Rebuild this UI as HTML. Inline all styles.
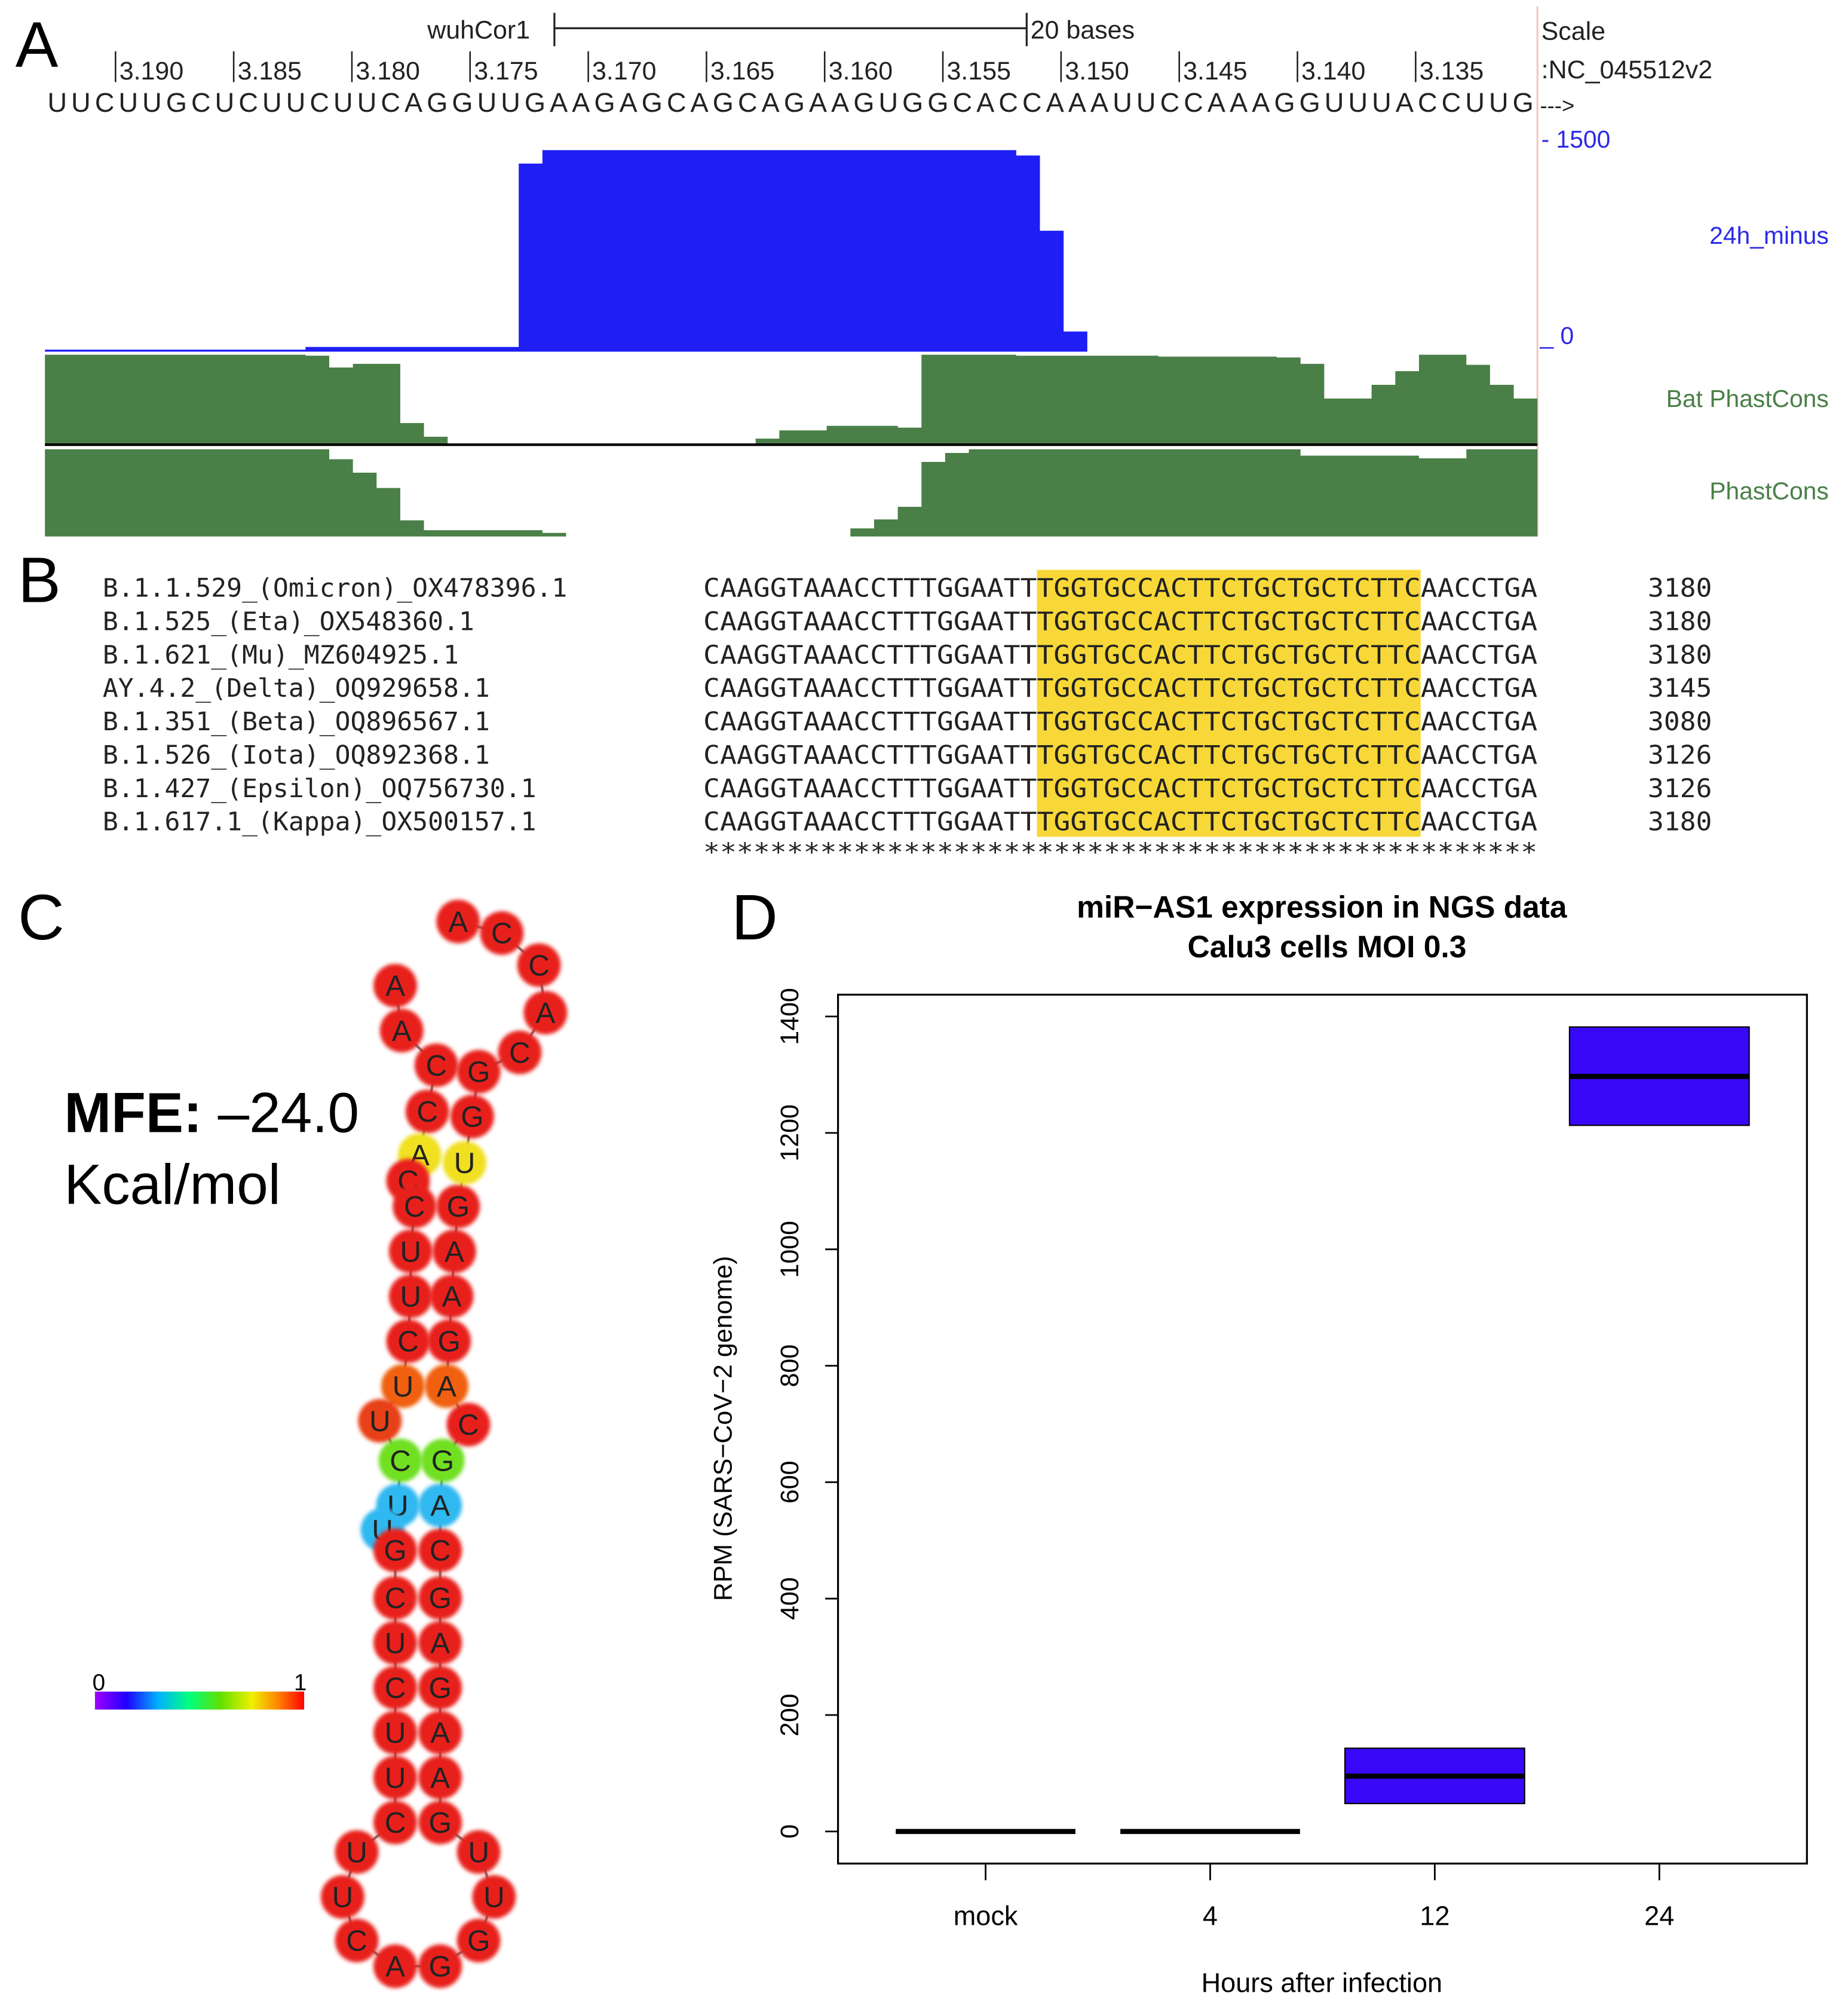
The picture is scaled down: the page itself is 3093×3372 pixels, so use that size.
<!DOCTYPE html>
<html><head><meta charset="utf-8">
<style>
html,body{margin:0;padding:0;background:#fff;}
svg{display:block;}
.sans{font-family:"Liberation Sans",sans-serif;}
.mono{font-family:"DejaVu Sans Mono","Liberation Mono",monospace;}
</style></head>
<body>
<svg id="fig" width="3093" height="3372" viewBox="0 0 1440 1570" preserveAspectRatio="none" xmlns="http://www.w3.org/2000/svg">
<defs>
<linearGradient id="rainbow" x1="0" x2="1" y1="0" y2="0">
<stop offset="0" stop-color="#a000ff"/><stop offset="0.15" stop-color="#2000ff"/><stop offset="0.3" stop-color="#00b0ff"/><stop offset="0.45" stop-color="#00ff80"/><stop offset="0.6" stop-color="#60e000"/><stop offset="0.75" stop-color="#f0f000"/><stop offset="0.88" stop-color="#ff8000"/><stop offset="1" stop-color="#ff0000"/>
</linearGradient>
<filter id="glow" x="-50%" y="-50%" width="200%" height="200%"><feGaussianBlur stdDeviation="1.5"/></filter>
</defs>
<rect width="1440" height="1570" fill="#fff"/>

<!-- PANEL A -->
<g id="panelA" class="sans">
<text x="12" y="52" font-size="50">A</text>
<text x="333" y="30" font-size="20" fill="#222">wuhCor1</text>
<g stroke="#222" stroke-width="1.5">
<line x1="432" y1="22" x2="800" y2="22"/><line x1="432" y1="10" x2="432" y2="36"/><line x1="800" y1="10" x2="800" y2="36"/>
</g>
<text x="803" y="30" font-size="20" fill="#222">20 bases</text>
<line x1="1198" y1="5" x2="1198" y2="418" stroke="#f0c8c8" stroke-width="1.5"/>
<text x="1201" y="31" font-size="20" fill="#222">Scale</text>
<text x="1201" y="61" font-size="20" fill="#222">:NC_045512v2</text>
<g id="coordTicks"></g>
<text x="37" y="87" font-size="21" fill="#222" textLength="1158" lengthAdjust="spacing">UUCUUGCUCUUCUUCAGGUUGAAGAGCAGCAGAAGUGGCACCAAAUUCCAAAGGUUUACCUUG</text>
<text x="1200" y="88" font-size="17" fill="#222">---&gt;</text>
<g id="blueTrack"></g>
<text x="1201" y="115" font-size="19" fill="#2a2ae8">- 1500</text>
<text x="1200" y="268" font-size="19" fill="#2a2ae8">_ 0</text>
<text x="1425" y="190" font-size="19" fill="#2a2ae8" text-anchor="end">24h_minus</text>
<g id="batTrack"></g>
<line x1="35" y1="346.5" x2="1198" y2="346.5" stroke="#000" stroke-width="2"/>
<g id="phastTrack"></g>
<text x="1425" y="317" font-size="19" fill="#4a7f48" text-anchor="end">Bat PhastCons</text>
<text x="1425" y="389" font-size="19" fill="#4a7f48" text-anchor="end">PhastCons</text>
</g>

<!-- PANEL B -->
<g id="panelB">
<text x="14" y="469" font-size="50" class="sans">B</text>
<rect x="808" y="444" width="299" height="208" fill="#f8d838"/>
<g id="alignRows" class="mono" font-size="20" fill="#222"></g>
<text x="548" y="671" font-size="20" class="mono" fill="#222" textLength="650" lengthAdjust="spacingAndGlyphs">**************************************************</text>
</g>

<!-- PANEL C -->
<g id="panelC" class="sans">
<text x="14" y="732" font-size="50">C</text>
<text x="50" y="882" font-size="44"><tspan font-weight="bold">MFE:</tspan> –24.0</text>
<text x="50" y="938" font-size="44">Kcal/mol</text>
<rect x="74" y="1318" width="163" height="14" fill="url(#rainbow)"/>
<text x="72" y="1317" font-size="18">0</text>
<text x="229" y="1317" font-size="18">1</text>
<g id="rna"></g>
</g>

<!-- PANEL D -->
<g id="panelD" class="sans">
<text x="570" y="732" font-size="50">D</text>
<text x="1030" y="715" font-size="24" font-weight="bold" text-anchor="middle">miR−AS1 expression in NGS data</text>
<text x="1034" y="746" font-size="24" font-weight="bold" text-anchor="middle">Calu3 cells MOI 0.3</text>
<rect x="653" y="775" width="755" height="677" fill="none" stroke="#000" stroke-width="1.5"/>
<g id="yAxis"></g>
<g id="xAxis"></g>
<g id="boxes"></g>
<text transform="translate(570,1113) rotate(-90)" font-size="20" text-anchor="middle">RPM (SARS−CoV−2 genome)</text>
<text x="1030" y="1552" font-size="21" text-anchor="middle">Hours after infection</text>
</g>
</svg>
<script>
const NS = "http://www.w3.org/2000/svg";
// Panel A data
const coordLabels = ["3.190","3.185","3.180","3.175","3.170","3.165","3.160","3.155","3.150","3.145","3.140","3.135"];
const coverage24h = [15,15,15,15,15,15,15,15,15,15,15,35,35,35,35,35,35,35,35,35,1400,1500,1500,1500,1500,1500,1500,1500,1500,1500,1500,1500,1500,1500,1500,1500,1500,1500,1500,1500,1500,1460,900,150,0,0,0,0,0,0,0,0,0,0,0,0,0,0,0,0,0,0,0];
const batPhastCons = [0.98,0.98,0.98,0.98,0.98,0.98,0.98,0.98,0.98,0.98,0.98,0.97,0.84,0.88,0.88,0.23,0.08,0,0,0,0,0,0,0,0,0,0,0,0,0,0.06,0.15,0.15,0.2,0.2,0.2,0.18,0.98,0.98,0.98,0.98,0.97,0.97,0.97,0.97,0.97,0.97,0.96,0.96,0.96,0.96,0.96,0.95,0.88,0.5,0.5,0.65,0.8,0.98,0.98,0.87,0.65,0.5];
const phastCons = [0.97,0.97,0.97,0.97,0.97,0.97,0.97,0.97,0.97,0.97,0.97,0.97,0.86,0.71,0.54,0.18,0.07,0.07,0.07,0.07,0.07,0.04,0,0,0,0,0,0,0,0,0,0,0,0,0.09,0.19,0.33,0.83,0.93,0.97,0.97,0.97,0.97,0.97,0.97,0.97,0.97,0.97,0.97,0.97,0.97,0.97,0.97,0.9,0.9,0.9,0.9,0.9,0.87,0.87,0.97,0.97,0.97];
// Panel B data
const seqNames = ["B.1.1.529_(Omicron)_OX478396.1","B.1.525_(Eta)_OX548360.1","B.1.621_(Mu)_MZ604925.1","AY.4.2_(Delta)_OQ929658.1","B.1.351_(Beta)_OQ896567.1","B.1.526_(Iota)_OQ892368.1","B.1.427_(Epsilon)_OQ756730.1","B.1.617.1_(Kappa)_OX500157.1"];
const seqPositions = ["3180","3180","3180","3145","3080","3126","3126","3180"];
// Panel D data
const categories = ["mock","4","12","24"];
const q1Values = [0,0,48,1213];
const medianValues = [0,0,95,1297];
const q3Values = [0,0,143,1382];
const yTicks = [0,200,400,600,800,1000,1200,1400];

function mk(tag, attrs, parent){const e=document.createElementNS(NS,tag);for(const k in attrs)e.setAttribute(k,attrs[k]);parent.appendChild(e);return e;}

// coordinate ticks
const ct=document.getElementById('coordTicks');
coordLabels.forEach((lab,i)=>{
  const x=90+92.1*i;
  const l=mk('line',{x1:x,y1:40,x2:x,y2:64,stroke:'#222','stroke-width':1.2},ct);
  
  
  const t=mk('text',{x:x+3,y:62,'font-size':20,fill:'#222'},ct);
  t.textContent=lab;
  
  
});

// tracks
const x0=35, bw=(1198-35)/63;
function trackPath(vals, base, h, max){
  let d='M'+x0+','+base;
  vals.forEach((v,i)=>{const y=base-h*v/max;d+=' L'+(x0+bw*i)+','+y+' L'+(x0+bw*(i+1))+','+y;});
  d+=' L'+(x0+bw*vals.length)+','+base+' Z';return d;
}
const bp=mk('path',{d:trackPath(coverage24h,274,157,1500),fill:'#1e1ef5'},document.getElementById('blueTrack'));


const bt=mk('path',{d:trackPath(batPhastCons,346,71,1),fill:'#4a7f48'},document.getElementById('batTrack'));


const pt=mk('path',{d:trackPath(phastCons,418,70,1),fill:'#4a7f48'},document.getElementById('phastTrack'));



// alignment
const ar=document.getElementById('alignRows');
seqNames.forEach((n,i)=>{
  const y=465+26*i;
  const a=mk('text',{x:80,y:y,textLength:362*n.length/30,lengthAdjust:'spacingAndGlyphs'},ar);a.textContent=n;
  
  
  const s=mk('text',{x:548,y:y,textLength:650,lengthAdjust:'spacingAndGlyphs'},ar);s.textContent='CAAGGTAAACCTTTGGAATTTGGTGCCACTTCTGCTGCTCTTCAACCTGA';
  
  
  const p=mk('text',{x:1284,y:y,textLength:50,lengthAdjust:'spacingAndGlyphs'},ar);p.textContent=seqPositions[i];
  
  
});

// RNA structure
const R='#e8201c',Y='#f0e020',O='#f06010',G='#70e020',B='#30b8f0',OR='#e84018';
const nts=[
 ['A',308,768,R],['A',313,803,R],['C',340,830,R],['C',333,866,R],['A',327,900,Y],['C',318,920,R],['C',323,940,R],['U',320,975,R],['U',320,1010,R],['C',318,1045,R],['U',314,1080,O],['U',296,1107,OR],['C',312,1138,G],['U',310,1173,B],['U',298,1192,B],['G',308,1208,R],['C',308,1245,R],['U',308,1280,R],['C',308,1315,R],['U',308,1350,R],['U',308,1385,R],['C',308,1420,R],
 ['U',278,1443,R],['U',267,1478,R],['C',278,1512,R],['A',308,1532,R],['G',343,1532,R],['G',373,1512,R],['U',385,1478,R],['U',373,1443,R],
 ['G',343,1420,R],['A',343,1385,R],['A',343,1350,R],['G',343,1315,R],['A',343,1280,R],['G',343,1245,R],['C',343,1208,R],['A',343,1173,B],['G',345,1138,G],['C',365,1110,R],['A',348,1080,O],['G',350,1045,R],['A',352,1010,R],['A',354,975,R],['G',357,940,R],['U',362,906,Y],['G',368,870,R],['G',373,835,R],['C',405,820,R],['A',425,789,R],['C',420,752,R],['C',391,727,R],['A',357,718,R]];
const rna=document.getElementById('rna');
const bb=mk('polyline',{points:nts.map(n=>n[1]+','+n[2]).join(' '),fill:'none',stroke:'#777','stroke-width':2},rna);


nts.forEach(n=>{
  const g=mk('g',{},rna);
  
  
  mk('circle',{cx:n[1],cy:n[2],r:17,fill:n[3],filter:'url(#glow)'},g);
  mk('circle',{cx:n[1],cy:n[2],r:14,fill:n[3]},g);
  const t=mk('text',{x:n[1],y:n[2]+8,'font-size':23,'text-anchor':'middle',fill:'#222'},g);t.textContent=n[0];
});

// Panel D boxplot
function yScale(v){return 1427-(v/1400)*(1427-792);}
function xScale(i){return 768+175*i;}
const ya=document.getElementById('yAxis');
yTicks.forEach(v=>{
  const y=yScale(v);
  const l=mk('line',{x1:643,y1:y,x2:653,y2:y,stroke:'#000','stroke-width':1.3},ya);
  
  
  const t=mk('text',{transform:'translate(622,'+y+') rotate(-90)','font-size':20,'text-anchor':'middle'},ya);
  t.textContent=v;
  
  
});
const xa=document.getElementById('xAxis');
categories.forEach((c,i)=>{
  const x=xScale(i);
  const l=mk('line',{x1:x,y1:1452,x2:x,y2:1465,stroke:'#000','stroke-width':1.3},xa);
  
  
  const t=mk('text',{x:x,y:1500,'font-size':21,'text-anchor':'middle'},xa);
  t.textContent=c;
  
  
});
const bx=document.getElementById('boxes');
categories.forEach((c,i)=>{
  const x=xScale(i);
  const g=mk('g',{},bx);
  
  
  const top=yScale(q3Values[i]), bot=yScale(q1Values[i]);
  if(bot-top>0.5) mk('rect',{x:x-70,y:top,width:140,height:bot-top,fill:'#3a08f8',stroke:'#000','stroke-width':1},g);
  const m=mk('line',{x1:x-70,y1:yScale(medianValues[i]),x2:x+70,y2:yScale(medianValues[i]),stroke:'#000','stroke-width':4},g);
  
  
});
</script>
</body></html>
